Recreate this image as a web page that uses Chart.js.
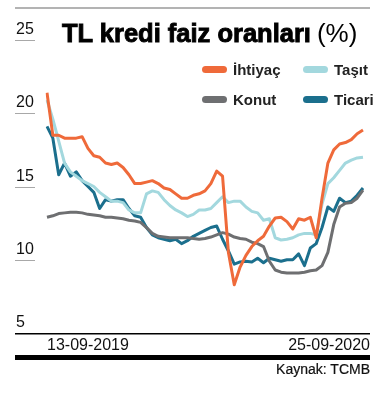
<!DOCTYPE html>
<html>
<head>
<meta charset="utf-8">
<script src="https://cdn.jsdelivr.net/npm/chart.js@4/dist/chart.umd.min.js"></script>
<style>
  body { margin: 0; background: #fff; }
  #wrap { position: relative; width: 384px; height: 400px; overflow: hidden; font-family: "Liberation Sans", Arial, sans-serif; }
  #chart { position: absolute; left: 0; top: 0; }
  .title { position: absolute; left: 62px; top: 20px; white-space: nowrap; color: #000; line-height: 26px; }
  .title b { font-size: 25.5px; font-weight: 700; -webkit-text-stroke: 0.9px #000; letter-spacing: 0px; }
  .title span { font-size: 26px; font-weight: 400; margin-left: 6px; }
  .leg { position: absolute; display: flex; align-items: center; font-size: 15px; font-weight: 700; color: #222; white-space: nowrap; }
  .leg i { display: inline-block; width: 25px; height: 7px; border-radius: 4px; margin-right: 6px; }
  .src { position: absolute; right: 14px; top: 361px; font-size: 14px; color: #111; white-space: nowrap; -webkit-text-stroke: 0.2px #111; }
</style>
</head>
<body>
<div id="wrap">
  <canvas id="chart" width="384" height="400"></canvas>
  <div class="title"><b>TL kredi faiz oranları</b><span>(%)</span></div>
  <div class="src">Kaynak: TCMB</div>
</div>
<script>
// weekly observations, 13-09-2019 ... 25-09-2020
const dates = [
  '13-09-2019','20-09-2019','27-09-2019','04-10-2019','11-10-2019','18-10-2019','25-10-2019',
  '01-11-2019','08-11-2019','15-11-2019','22-11-2019','29-11-2019','06-12-2019','13-12-2019',
  '20-12-2019','27-12-2019','03-01-2020','10-01-2020','17-01-2020','24-01-2020','31-01-2020',
  '07-02-2020','14-02-2020','21-02-2020','28-02-2020','06-03-2020','13-03-2020','20-03-2020',
  '27-03-2020','03-04-2020','10-04-2020','17-04-2020','24-04-2020','01-05-2020','08-05-2020',
  '15-05-2020','22-05-2020','29-05-2020','05-06-2020','12-06-2020','19-06-2020','26-06-2020',
  '03-07-2020','10-07-2020','17-07-2020','24-07-2020','31-07-2020','07-08-2020','14-08-2020',
  '21-08-2020','28-08-2020','04-09-2020','11-09-2020','18-09-2020','25-09-2020'
];

const ihtiyac = [21.4,18.5,18.5,18.3,18.3,18.3,18.4,17.6,17.1,17.0,16.6,16.5,16.6,16.3,
  15.8,15.2,15.2,15.3,15.4,15.2,14.9,14.8,14.5,14.2,14.2,14.4,14.5,14.7,15.2,16.05,15.7,
  10.5,8.3,9.5,10.3,10.9,11.3,11.6,12.3,12.85,12.9,12.6,12.1,12.8,12.7,12.9,11.5,14.2,
  16.6,17.5,17.9,18.0,18.2,18.6,18.85];
const tasit = [20.9,19.6,18.1,16.6,16.0,15.7,15.4,15.2,15.0,14.6,14.3,14.0,14.0,13.9,
  13.4,13.2,13.2,14.5,14.7,14.6,14.1,13.7,13.4,13.2,12.95,13.1,13.4,13.4,13.5,13.9,14.3,
  13.9,14.0,14.0,13.6,13.3,13.2,12.7,12.8,11.5,11.35,11.4,11.5,11.7,11.8,11.8,11.7,13.8,
  15.2,15.6,16.1,16.6,16.8,16.95,17.0];
const konut = [12.9,13.0,13.15,13.2,13.25,13.25,13.2,13.1,13.05,13.0,12.9,12.9,12.85,12.8,
  12.7,12.65,12.55,12.2,11.8,11.6,11.55,11.5,11.5,11.5,11.5,11.45,11.4,11.45,11.55,11.7,
  11.85,11.75,11.55,11.45,11.4,11.2,11.1,10.9,9.9,9.3,9.15,9.1,9.1,9.1,9.15,9.25,9.3,9.6,
  10.5,12.4,13.6,13.85,13.9,14.2,14.75];
const ticari = [19.1,18.3,15.8,16.6,15.7,16.0,15.4,15.0,14.6,13.5,14.1,14.0,14.1,14.1,
  13.5,13.0,12.9,12.2,11.7,11.5,11.4,11.3,11.4,11.1,11.3,11.6,11.8,12.0,12.2,12.3,11.4,
  10.6,9.7,9.85,9.9,9.85,10.1,9.8,10.1,10.0,9.9,10.0,10.0,10.4,9.6,10.8,11.1,12.2,13.6,
  13.3,14.2,13.9,14.0,14.4,14.9];

const yTicks = [5, 10, 15, 20, 25];
const xTickLabels = ['13-09-2019', '25-09-2020'];

const series = [
  { name: 'İhtiyaç', data: ihtiyac, color: '#ef6a3a', order: 1 },
  { name: 'Taşıt', data: tasit, color: '#a3d8de', order: 3 },
  { name: 'Konut', data: konut, color: '#6e6f71', order: 2 },
  { name: 'Ticari', data: ticari, color: '#1b6f8d', order: 4 }
];

// legend in 2x2 grid
const wrap = document.getElementById('wrap');
series.forEach((s, i) => {
  const d = document.createElement('div');
  d.className = 'leg';
  d.style.left = (i % 2 === 0 ? 202 : 303) + 'px';
  d.style.top = (i < 2 ? 61 : 91) + 'px';
  d.innerHTML = '<i style="background:' + s.color + '"></i>' + s.name;
  wrap.appendChild(d);
});

const axisDecor = {
  id: 'axisDecor',
  afterDraw(chart) {
    const ctx = chart.ctx;
    const y = chart.scales.y, x = chart.scales.x;
    const left = 15, right = 370;
    ctx.save();
    // top rule
    ctx.fillStyle = '#b3b3b3';
    ctx.fillRect(left, 7, right - left, 2);
    // y labels sitting on short rules
    ctx.font = '16px "Liberation Sans", Arial, sans-serif';
    ctx.textBaseline = 'alphabetic';
    ctx.textAlign = 'left';
    yTicks.forEach(v => {
      const py = Math.round(y.getPixelForValue(v));
      if (v !== 5) {
        ctx.fillStyle = '#a8a8a8';
        ctx.fillRect(left, py, 20, 1);
      }
      ctx.fillStyle = '#111';
      ctx.fillText(String(v), left + 1, py - 6);
    });
    // baseline
    const base = Math.round(y.getPixelForValue(5));
    ctx.fillStyle = '#000';
    ctx.fillRect(left, base, right - left, 1.5);
    // thick bottom bar
    ctx.fillRect(left, base + 22, right - left, 5);
    // x labels
    ctx.fillStyle = '#111';
    ctx.textAlign = 'left';
    ctx.fillText(xTickLabels[0], x.getPixelForValue(0), base + 17);
    ctx.textAlign = 'right';
    ctx.fillText(xTickLabels[1], right, base + 17);
    ctx.restore();
  }
};

new Chart(document.getElementById('chart'), {
  type: 'line',
  data: {
    labels: dates,
    datasets: series.map(s => ({
      label: s.name,
      data: s.data,
      borderColor: s.color,
      borderWidth: 3,
      pointRadius: 0,
      tension: 0,
      borderJoinStyle: 'round',
      order: s.order
    }))
  },
  options: {
    responsive: false,
    animation: false,
    layout: { padding: { left: 47, right: 21, top: 40, bottom: 67 } },
    plugins: { legend: { display: false }, tooltip: { enabled: false } },
    scales: {
      x: { display: false, offset: false },
      y: { display: false, min: 5, max: 25 }
    }
  },
  plugins: [axisDecor]
});
</script>
</body>
</html>
